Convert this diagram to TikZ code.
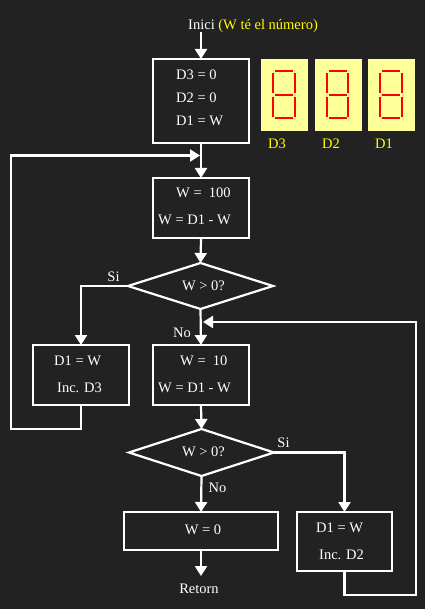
\documentclass[tikz,border=0pt]{standalone}
\usepackage{fontspec}
\setmainfont{Liberation Serif}
\usetikzlibrary{arrows.meta,shapes.geometric}
\definecolor{bg}{HTML}{222222}
\definecolor{disp}{HTML}{FFFF99}
\definecolor{ytext}{HTML}{FFFF00}
\definecolor{seg}{HTML}{FF0000}
\begin{document}
\begin{tikzpicture}[x=1pt,y=-1pt,
  box/.style={draw=white,line width=2.2pt,rectangle,inner sep=0pt,outer sep=0pt},
  dia/.style={draw=white,line width=2.2pt,diamond,inner sep=0pt,outer sep=0pt},
  txt/.style={text=white,font=\fontsize{14.5}{17}\selectfont,inner sep=0pt},
  ytxt/.style={text=ytext,font=\fontsize{14.5}{17}\selectfont,inner sep=0pt},
  flow/.style={draw=white,line width=2.2pt,-{Triangle[length=10pt,width=12pt]}},
  wire/.style={draw=white,line width=2.2pt},
  segline/.style={draw=seg,line width=2pt}
]
\fill[bg] (0,0) rectangle (425,609);
\useasboundingbox (0,0) rectangle (425,609);

% start text
\node[txt,anchor=base west] (start) at (188,29.5) {Inici \textcolor{ytext}{(W té el número)}};
\coordinate (s0) at (201,32);

% boxes
\node[box,minimum width=96pt,minimum height=84pt] (b1) at (201,101) {};
\node[box,minimum width=96pt,minimum height=60pt] (b2) at (201,208) {};
\node[dia,minimum width=145pt,minimum height=46pt] (d1) at (200.5,286) {};
\node[box,minimum width=96pt,minimum height=60pt] (b3) at (81,375) {};
\node[box,minimum width=96pt,minimum height=60pt] (b4) at (201,375) {};
\node[dia,minimum width=145pt,minimum height=47pt] (d2) at (201.5,452.5) {};
\node[box,minimum width=154pt,minimum height=38pt] (b5) at (201,531) {};
\node[box,minimum width=95pt,minimum height=59pt] (b6) at (344.5,541.5) {};

% texts in boxes
\node[txt,anchor=west] (t1a) at (176,75) {D3 = 0};
\node[txt,anchor=west] (t1b) at (176,98) {D2 = 0};
\node[txt,anchor=west] (t1c) at (176,121) {D1 = W};
\node[txt,anchor=west] (t2a) at (176,193) {W =\ \ 100};
\node[txt,anchor=west] (t2b) at (158,220) {W = D1 - W};
\node[txt] (td1) at (203.5,286) {W > 0?};
\node[txt,anchor=west] (t3a) at (54,361) {D1 = W};
\node[txt,anchor=west] (t3b) at (57,388) {Inc. D3};
\node[txt,anchor=west] (t4a) at (180,361) {W =\ \ 10};
\node[txt,anchor=west] (t4b) at (158,388) {W = D1 - W};
\node[txt] (td2) at (203.5,452) {W > 0?};
\node[txt] (t5) at (203,530) {W = 0};
\node[txt,anchor=west] (t6a) at (316,528) {D1 = W};
\node[txt,anchor=west] (t6b) at (319,555) {Inc. D2};

% branch labels
\node[txt] (si1) at (113.5,277) {Si};
\node[txt] (no1) at (182,333) {No};
\node[txt] (si2) at (283.5,443) {Si};
\node[txt] (no2) at (217.5,488) {No};
\node[txt] (ret) at (199,589) {Retorn};
\coordinate (retc) at (201,576);

% displays
\foreach \x in {261,314.5,368}{
  \fill[disp] (\x,59) rectangle ++(47,72);
  \draw[segline] (\x+14,70.7) -- (\x+32,70.7);
  \draw[segline] (\x+14,95) -- (\x+32,95);
  \draw[segline] (\x+14,118.3) -- (\x+32,118.3);
  \draw[segline] (\x+12,73) -- (\x+12,93);
  \draw[segline] (\x+33.5,73) -- (\x+33.5,93);
  \draw[segline] (\x+12,97) -- (\x+12,117);
  \draw[segline] (\x+33.5,97) -- (\x+33.5,117);
}
\node[ytxt] (l3) at (277,144) {D3};
\node[ytxt] (l2) at (331,144) {D2};
\node[ytxt] (l1) at (384,144) {D1};

% connectors
\coordinate (m1) at (200,155.5);
\coordinate (m2) at (203,322);
\draw[flow] (s0) -- (b1.north);
\draw[flow] (b1.south) -- (b2.north);
\draw[flow] (b2.south) -- (d1.north);
\draw[flow] (d1.west) -| (b3.north);
\draw[flow] (d1.south) -- (b4.north);
\draw[flow] (b4.south) -- (d2.north);
\draw[flow] (d2.east) -| (b6.north);
\draw[flow] (d2.south) -- (b5.north);
\draw[flow] (b5.south) -- (retc);
\draw[flow] (b3.south) -- (81,429) -- (11,429) -- (11,155.5) -- (m1);
\draw[flow] (b6.south) -- (344.5,595) -- (416,595) -- (416,322) -- (m2);
\end{tikzpicture}
\end{document}
